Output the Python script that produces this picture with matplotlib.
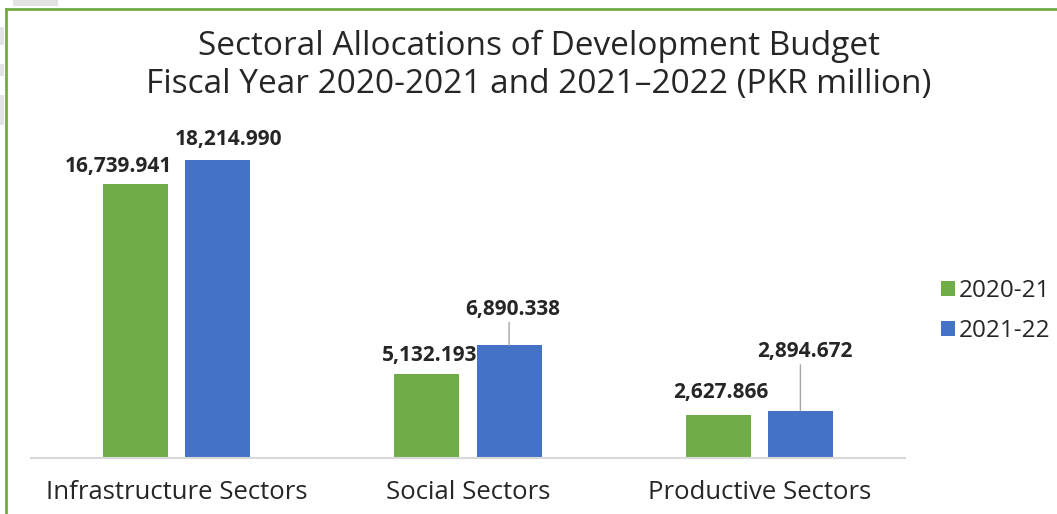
import numpy as np
import matplotlib
matplotlib.use('Agg')
import matplotlib.pyplot as plt
from matplotlib.patches import Rectangle

plt.rcParams['font.family'] = ['Open Sans', 'DejaVu Sans']

categories = ['Infrastructure Sectors', 'Social Sectors', 'Productive Sectors']
years = ['2020-21', '2021-22']
alloc_2020_21 = [16739.941, 5132.193, 2627.866]
alloc_2021_22 = [18214.990, 6890.338, 2894.672]
colors = ['#70ad47', '#4472c4']

W, H = 1057, 514
fig = plt.figure(figsize=(W / 100, H / 100), dpi=100)
ax = fig.add_axes([31 / W, 56 / H, 874 / W, 358 / H])

x = np.arange(len(categories))
w = 0.223
off = 0.141
ax.bar(x - off, alloc_2020_21, w, color=colors[0], label=years[0])
ax.bar(x + off, alloc_2021_22, w, color=colors[1], label=years[1])

ax.set_xlim(-0.5, 2.5)
ax.set_ylim(0, 21880)
ax.set_yticks([])
for s in ['top', 'right', 'left']:
    ax.spines[s].set_visible(False)
ax.spines['bottom'].set_color('#d9d9d9')
ax.spines['bottom'].set_linewidth(1.5)
ax.set_xticks(x)
ax.set_xticklabels(categories, fontsize=18.5, color='#262626')
ax.tick_params(axis='x', length=0, pad=16)

# data labels: (dx, dy) offsets in points from the bar top
lab_style = dict(fontsize=15, fontweight='bold', color='#262626', ha='center', va='center')
green_offs = [(-12, 13), (2, 13), (1.5, 16)]
blue_offs = [(8, 15), (3, 26), (3, 42.5)]
for i in range(len(categories)):
    v = alloc_2020_21[i]
    dx, dy = green_offs[i]
    ax.annotate(f'{v:,.3f}', (x[i] - off, v), xytext=(dx, dy),
                textcoords='offset points', **lab_style)
    v = alloc_2021_22[i]
    dx, dy = blue_offs[i]
    ax.annotate(f'{v:,.3f}', (x[i] + off, v), xytext=(dx, dy),
                textcoords='offset points', **lab_style)
    if dy > 20:
        # leader line from the bar top up to its label
        ax.annotate('', (x[i] + off, v), xytext=(0, dy - 9.5),
                    textcoords='offset points',
                    arrowprops=dict(arrowstyle='-', color='#a6a6a6', lw=1,
                                    shrinkA=0, shrinkB=0))

fig.text(0.5095, 0.91, 'Sectoral Allocations of Development Budget', ha='center', va='center',
         fontsize=24, color='#262626')
fig.text(0.5095, 0.836, 'Fiscal Year 2020-2021 and 2021\u20132022 (PKR million)', ha='center',
         va='center', fontsize=24, color='#262626')

ax.legend(loc='center left', bbox_to_anchor=(1.016, 0.41), frameon=False, fontsize=17.5,
          handlelength=0.6, handleheight=0.6, handletextpad=0.15, labelspacing=0.65,
          labelcolor='#262626')

# frame lines along the left and top edges
fig.add_artist(plt.Line2D([6 / W, 6 / W], [0, 1 - 9 / H], color='#70ad47', lw=2))
fig.add_artist(plt.Line2D([6 / W, 1], [1 - 9 / H, 1 - 9 / H], color='#70ad47', lw=2))

# faint grey shapes peeking in at the top-left corner
for (px, py, pw, ph) in [(13, 0, 45, 6), (0, 27, 4, 18), (0, 64, 4, 12), (0, 95, 4, 30)]:
    fig.add_artist(Rectangle((px / W, 1 - (py + ph) / H), pw / W, ph / H,
                             transform=fig.transFigure, color='#e3e3e3', lw=0))

fig.savefig('out.png', dpi=100)
